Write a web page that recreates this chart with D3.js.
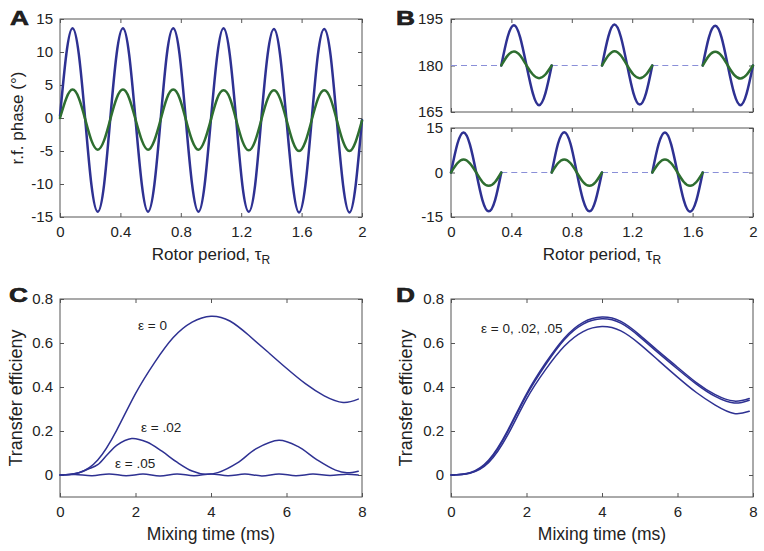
<!DOCTYPE html>
<html><head><meta charset="utf-8">
<script src="https://cdn.jsdelivr.net/npm/d3@7"></script>
<style>
body{margin:0;background:#fff}
svg{display:block}
text{font-family:"Liberation Sans",Arial,Helvetica,sans-serif;fill:#222}
</style>
</head><body>
<svg id="chart" width="764" height="551"></svg>
<script>
// ---------- Panel A: r.f. phase vs rotor period ----------
const tA = [0,0.042,0.083,0.125,0.167,0.208,0.25,0.292,0.333,0.375,0.417,0.458,0.5,0.542,0.583,0.625,0.667,0.708,0.75,0.792,0.833,0.875,0.917,0.958,1,1.042,1.083,1.125,1.167,1.208,1.25,1.292,1.333,1.375,1.417,1.458,1.5,1.542,1.583,1.625,1.667,1.708,1.75,1.792,1.833,1.875,1.917,1.958,2];
const blueA = [0.3,9.7,13.6,9.6,-0.2,-10.1,-14.2,-10.1,
  -0.1,9.7,13.6,9.6,-0.2,-10.1,-14.2,-10.1,
  -0.1,9.7,13.6,9.6,-0.2,-10.1,-14.2,-10.1,
  -0.1,9.6,13.6,9.5,-0.3,-10.2,-14.2,-10.2,
  -0.2,9.6,13.5,9.5,-0.3,-10.2,-14.3,-10.2,
  -0.2,9.6,13.5,9.5,-0.3,-10.2,-14.3,-10.2,
  -0.3];
const greenA = [0,3.0,4.3,3.0,-0.2,-3.4,-4.8,-3.4,
  -0.2,3.0,4.3,3.0,-0.2,-3.4,-4.8,-3.4,
  -0.2,3.0,4.3,3.0,-0.2,-3.4,-4.8,-3.4,
  -0.2,3.0,4.2,3.0,-0.3,-3.5,-4.9,-3.5,
  -0.3,2.9,4.2,2.9,-0.3,-3.6,-5.0,-3.6,
  -0.3,2.9,4.2,2.9,-0.3,-3.6,-5.0,-3.6,
  -0.4];
const rotorTicks = [0,0.4,0.8,1.2,1.6,2];
const phaseTicksA = [-15,-10,-5,0,5,10,15];

// ---------- Panel B: windowed phase (upper: 180 offset, lower: 0 offset) ----------
const bTopTime = [[0.333,0.375,0.417,0.458,0.5,0.542,0.583,0.625,0.667],
                  [1.0,1.042,1.083,1.125,1.167,1.208,1.25,1.292,1.333],
                  [1.667,1.708,1.75,1.792,1.833,1.875,1.917,1.958,2.0]];
const bTopBlue = [[180,189.2,193.0,189.1,180,171.0,167.2,171.0,180],
                  [180,189.3,193.2,189.2,180,171.1,167.4,171.1,180],
                  [180,189.1,192.8,189.0,180,171.0,167.2,171.0,180]];
const bTopGreen = [[180,183.2,184.5,183.2,180,177.1,175.9,177.1,180],
                   [180,183.2,184.6,183.2,180,177.1,175.9,177.1,180],
                   [180,183.1,184.4,183.1,180,177.0,175.8,177.0,180]];
const bTopGap = [[0,0.333],[0.667,1.0],[1.333,1.667]];
const bBotTime = [[0,0.042,0.083,0.125,0.167,0.208,0.25,0.292,0.333],
                  [0.667,0.708,0.75,0.792,0.833,0.875,0.917,0.958,1.0],
                  [1.333,1.375,1.417,1.458,1.5,1.542,1.583,1.625,1.667]];
const bBotBlue = [[0,9.6,13.5,9.5,0,-9.3,-13.1,-9.3,0],
                  [0,9.6,13.6,9.6,0,-9.3,-13.1,-9.3,0],
                  [0,9.6,13.5,9.5,0,-9.4,-13.2,-9.4,0]];
const bBotGreen = [[0,3.1,4.4,3.1,0,-3.2,-4.5,-3.2,0],
                   [0,3.1,4.4,3.1,0,-3.2,-4.5,-3.2,0],
                   [0,3.1,4.4,3.1,0,-3.2,-4.5,-3.2,0]];
const bBotGap = [[0.333,0.667],[1.0,1.333],[1.667,2.0]];
const bTopTicks = [165,180,195];
const bBotTicks = [-15,0,15];

// ---------- Panel C / D: transfer efficiency vs mixing time ----------
const tMix  = [0,0.5,1,1.5,2,2.5,3,3.5,4,4.5,5,5.5,6,6.5,7,7.5,7.9];
const cEps0 = [0,0.01,0.068,0.203,0.37,0.51,0.625,0.695,0.722,0.7,0.635,0.56,0.485,0.415,0.36,0.33,0.345];
const tC02  = [0,0.25,0.5,0.75,1.0,1.25,1.5,1.9,2.3,2.7,3.1,3.5,3.85,4.2,4.7,5.2,5.8,6.3,6.8,7.3,7.6,7.9];
const cEps02 = [0,0.002,0.01,0.027,0.047,0.092,0.135,0.166,0.15,0.108,0.058,0.018,0.003,0.012,0.055,0.12,0.158,0.13,0.07,0.022,0.01,0.017];
const tC05  = [0,0.4,0.85,1.3,1.75,2.2,2.65,3.1,3.55,4.0,4.45,4.9,5.35,5.8,6.25,6.7,7.15,7.6,7.9];
const cEps05 = [0,0.002,-0.003,0.005,-0.003,0.004,-0.004,0.005,-0.003,0.005,-0.003,0.004,-0.004,0.005,-0.003,0.004,-0.002,0.003,0];
const dEps0  = [0,0.01,0.068,0.202,0.369,0.508,0.622,0.694,0.718,0.698,0.636,0.562,0.49,0.42,0.365,0.336,0.348];
const dEps02 = [0,0.009,0.064,0.196,0.362,0.5,0.615,0.686,0.71,0.69,0.628,0.554,0.482,0.413,0.357,0.327,0.34];
const dEps05 = [0,0.008,0.057,0.181,0.345,0.478,0.585,0.652,0.675,0.655,0.595,0.52,0.445,0.375,0.318,0.28,0.29];
const mixTicks = [0,2,4,6,8];
const effTicks = [0,0.2,0.4,0.6,0.8];

// ---------- drawing ----------
const svg = d3.select("#chart");
svg.append("rect").attr("width",764).attr("height",551).attr("fill","#fff");
const BLUE = "#2e3192", GREEN = "#2e6e30", FRAME = "#555", DASH = "#8a8fd8";

function makeAxes(box, xd, yd, xt, yt, opts){
  const x = d3.scaleLinear().domain(xd).range([box.l, box.r]);
  const y = d3.scaleLinear().domain(yd).range([box.b, box.t]);
  const g = svg.append("g");
  const style = sel => {
    sel.select(".domain").remove();
    sel.selectAll(".tick line").attr("stroke", FRAME);
    sel.selectAll(".tick text").attr("font-size", 15).attr("fill", "#222")
       .attr("font-family", '"Liberation Sans",Arial,sans-serif');
    sel.attr("font-family", null).attr("font-size", null);
  };
  g.append("g").attr("transform", `translate(0,${box.b})`)
    .call(d3.axisBottom(x).tickValues(xt).tickSizeInner(-4).tickSizeOuter(0).tickPadding(9)
      .tickFormat(opts.xLabels ? opts.xFmt : () => "")).call(style);
  g.append("g").attr("transform", `translate(0,${box.t})`)
    .call(d3.axisTop(x).tickValues(xt).tickSizeInner(-4).tickSizeOuter(0).tickFormat(() => "")).call(style);
  g.append("g").attr("transform", `translate(${box.l},0)`)
    .call(d3.axisLeft(y).tickValues(yt).tickSizeInner(-4).tickSizeOuter(0).tickPadding(opts.yPad || 7)
      .tickFormat(opts.yFmt)).call(style);
  g.append("g").attr("transform", `translate(${box.r},0)`)
    .call(d3.axisRight(y).tickValues(yt).tickSizeInner(-4).tickSizeOuter(0).tickFormat(() => "")).call(style);
  g.append("rect").attr("x", box.l).attr("y", box.t).attr("width", box.r - box.l).attr("height", box.b - box.t)
    .attr("fill", "none").attr("stroke", FRAME).attr("stroke-width", 1);
  return {x, y, g};
}

function drawLine(ax, xs, ys, color, width, curve){
  const pts = xs.map((v, i) => [v, ys[i]]);
  ax.g.append("path").datum(pts)
    .attr("d", d3.line().x(d => ax.x(d[0])).y(d => ax.y(d[1])).curve(curve || d3.curveNatural))
    .attr("fill", "none").attr("stroke", color).attr("stroke-width", width)
    .attr("stroke-linejoin", "round").attr("stroke-linecap", "round");
}
function drawDash(ax, span, level){
  ax.g.append("line").attr("x1", ax.x(span[0])).attr("x2", ax.x(span[1]))
    .attr("y1", ax.y(level)).attr("y2", ax.y(level))
    .attr("stroke", DASH).attr("stroke-width", 1).attr("stroke-dasharray", "6,4");
}
const fmtRotor = d => d === 0 || d === 2 ? String(d) : d3.format(".1f")(d);
const fmtInt = d => String(d);
const fmtEff = d => d === 0 ? "0" : d3.format(".1f")(d);
const smooth = d3.curveCatmullRom.alpha(0.5);

// Panel A
const axA = makeAxes({l:60, r:362, t:19, b:217}, [0,2], [-15,15], rotorTicks, phaseTicksA,
  {xLabels:true, xFmt:fmtRotor, yFmt:fmtInt});
drawLine(axA, tA, blueA, BLUE, 2.5);
drawLine(axA, tA, greenA, GREEN, 2.5);

// Panel B upper
const axB1 = makeAxes({l:451, r:753, t:19, b:112}, [0,2], [165,195], rotorTicks, bTopTicks,
  {xLabels:false, yFmt:fmtInt, yPad:8});
bTopGap.forEach(s => drawDash(axB1, s, 180));
bTopTime.forEach((ts, i) => { drawLine(axB1, ts, bTopBlue[i], BLUE, 2.5); });
bTopTime.forEach((ts, i) => { drawLine(axB1, ts, bTopGreen[i], GREEN, 2.5); });
// Panel B lower
const axB2 = makeAxes({l:451, r:753, t:128, b:217}, [0,2], [-15,15], rotorTicks, bBotTicks,
  {xLabels:true, xFmt:fmtRotor, yFmt:fmtInt, yPad:8});
bBotGap.forEach(s => drawDash(axB2, s, 0));
bBotTime.forEach((ts, i) => { drawLine(axB2, ts, bBotBlue[i], BLUE, 2.5); });
bBotTime.forEach((ts, i) => { drawLine(axB2, ts, bBotGreen[i], GREEN, 2.5); });

// Panel C
const axC = makeAxes({l:60, r:362, t:299, b:497}, [0,8], [-0.1,0.8], mixTicks, effTicks,
  {xLabels:true, xFmt:fmtInt, yFmt:fmtEff});
drawLine(axC, tMix, cEps0, BLUE, 1.5, d3.curveNatural);
drawLine(axC, tC02, cEps02, BLUE, 1.5, smooth);
drawLine(axC, tC05, cEps05, BLUE, 1.5, smooth);

// Panel D
const axD = makeAxes({l:451, r:753, t:299, b:497}, [0,8], [-0.1,0.8], mixTicks, effTicks,
  {xLabels:true, xFmt:fmtInt, yFmt:fmtEff});
drawLine(axD, tMix, dEps05, BLUE, 1.5, d3.curveNatural);
drawLine(axD, tMix, dEps02, BLUE, 1.5, d3.curveNatural);
drawLine(axD, tMix, dEps0, BLUE, 1.5, d3.curveNatural);

// ---------- text ----------
const T = (x, y, s, size, extra) => {
  const t = svg.append("text").attr("x", x).attr("y", y).attr("font-size", size).text(s);
  if (extra) extra(t);
  return t;
};
// panel letters (heavy, wide)
[["A",10,25],["B",396,25],["C",9,302],["D",396,302]].forEach(([s,x,y]) =>
  svg.append("text").attr("transform", `translate(${x},${y}) scale(1.25,1)`)
    .attr("font-size", 21).attr("font-weight", "bold").attr("fill", "#111")
    .attr("stroke", "#111").attr("stroke-width", 0.6).text(s));

// x labels with subscript
function rotorLabel(cx){
  const t = svg.append("text").attr("x", cx).attr("y", 260).attr("font-size", 17).attr("text-anchor", "middle");
  t.append("tspan").text("Rotor period, τ");
  t.append("tspan").attr("font-size", 12).attr("dy", 4).text("R");
}
rotorLabel(211);
rotorLabel(602);
T(211, 540, "Mixing time (ms)", 17.5, t => t.attr("text-anchor", "middle"));
T(602, 540, "Mixing time (ms)", 17.5, t => t.attr("text-anchor", "middle"));
// y labels
const yLab = (x, y, s, size) => svg.append("text").attr("transform", `translate(${x},${y}) rotate(-90)`)
  .attr("text-anchor", "middle").attr("font-size", size).text(s);
yLab(23, 118, "r.f. phase (°)", 17);
yLab(22, 398, "Transfer efficieny", 18);
yLab(412, 398, "Transfer efficieny", 18);

// curve annotations
T(138, 330, "ε = 0", 13.5);
T(141, 432, "ε = .02", 13.5);
T(115, 468, "ε = .05", 13.5);
T(481, 333, "ε = 0, .02, .05", 13.5);
</script>
</body></html>
